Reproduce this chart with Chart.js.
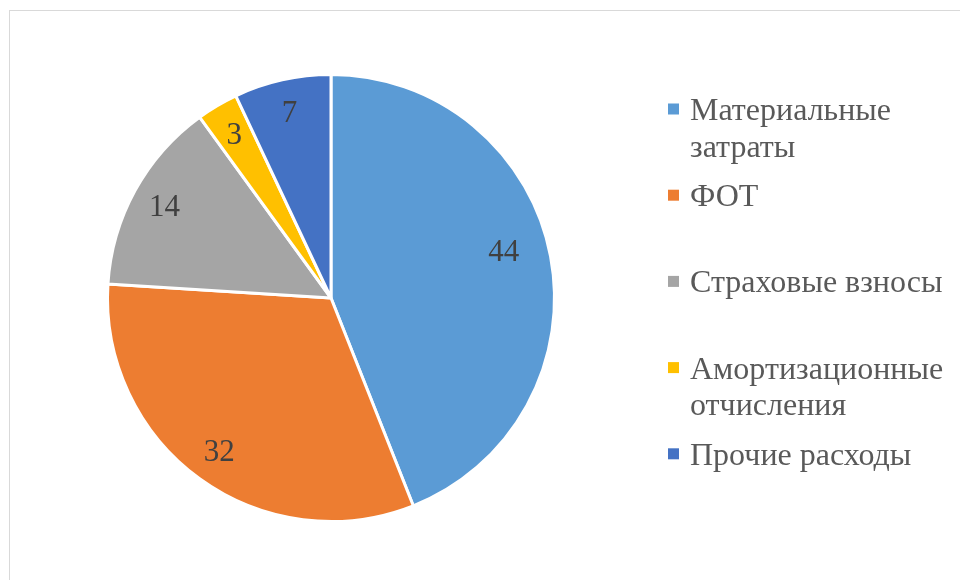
<!DOCTYPE html>
<html>
<head>
<meta charset="utf-8">
<script src="https://cdn.jsdelivr.net/npm/chart.js@4/dist/chart.umd.min.js"></script>
<style>
  html, body { margin: 0; padding: 0; background: #ffffff; overflow: hidden; }
  #wrap { position: relative; width: 960px; height: 580px; }
  #frame { position: absolute; left: 9px; top: 10px; width: 1000px; height: 1000px;
           border: 1.5px solid #d9d9d9; box-sizing: border-box; }
  canvas { position: absolute; left: 0; top: 0; }
</style>
</head>
<body>
<div id="wrap">
  <div id="frame"></div>
  <canvas id="c" width="960" height="580"></canvas>
</div>
<script>
const categories = ["Материальные затраты", "ФОТ", "Страховые взносы", "Амортизационные отчисления", "Прочие расходы"];
const values = [44, 32, 14, 3, 7];
const colors = ["#5B9BD5", "#ED7D31", "#A5A5A5", "#FFC000", "#4472C4"];

const LABEL_FONT = '31px "Liberation Serif", "Times New Roman", serif';
const LEGEND_FONT = '32px "Liberation Serif", "Times New Roman", serif';

const dataLabelPlugin = {
  id: 'sliceLabels',
  afterDatasetsDraw(chart) {
    const ctx = chart.ctx;
    const meta = chart.getDatasetMeta(0);
    const ds = chart.data.datasets[0];
    ctx.save();
    ctx.font = LABEL_FONT;
    ctx.fillStyle = '#404040';
    ctx.textAlign = 'center';
    ctx.textBaseline = 'middle';
    meta.data.forEach((arc, i) => {
      const p = arc.getProps(['x', 'y', 'startAngle', 'endAngle', 'outerRadius'], true);
      const span = p.endAngle - p.startAngle;
      // large slices: Excel pulls the label a bit toward the centre/earlier angle
      const mid = (p.startAngle + p.endAngle) / 2 - (span > Math.PI * 0.8 ? 0.07 : 0);
      const r = p.outerRadius * (span > Math.PI * 0.8 ? 0.8 : 0.85);
      ctx.fillText(String(ds.data[i]), p.x + Math.cos(mid) * r, p.y + Math.sin(mid) * r + 1);
    });
    ctx.restore();
  }
};

const legendPlugin = {
  id: 'sideLegend',
  afterDraw(chart) {
    const ctx = chart.ctx;
    const labels = chart.data.labels;
    const bg = chart.data.datasets[0].backgroundColor;
    ctx.save();
    ctx.font = LEGEND_FONT;
    ctx.textAlign = 'left';
    ctx.textBaseline = 'alphabetic';
    const markX = 668, textX = 690, maxW = 262, lineH = 36.5;
    const firstY = 109, step = 86.2;
    labels.forEach((lab, i) => {
      const cy = firstY + i * step;
      ctx.fillStyle = bg[i];
      ctx.fillRect(markX, cy - 5.5, 11, 11);
      const words = lab.split(' ');
      const lines = [];
      let cur = '';
      words.forEach(w => {
        const t = cur ? cur + ' ' + w : w;
        if (ctx.measureText(t).width > maxW && cur) { lines.push(cur); cur = w; }
        else cur = t;
      });
      if (cur) lines.push(cur);
      ctx.fillStyle = '#595959';
      lines.forEach((ln, k) => ctx.fillText(ln, textX, cy + 11 + k * lineH));
    });
    ctx.restore();
  }
};

new Chart(document.getElementById('c'), {
  type: 'pie',
  data: {
    labels: categories,
    datasets: [{
      data: values,
      backgroundColor: colors,
      borderColor: '#ffffff',
      borderWidth: 3,
      hoverOffset: 0
    }]
  },
  options: {
    responsive: false,
    animation: false,
    layout: { padding: { left: 106, right: 404, top: 73, bottom: 57 } },
    plugins: {
      legend: { display: false },
      tooltip: { enabled: false }
    }
  },
  plugins: [dataLabelPlugin, legendPlugin]
});
</script>
</body>
</html>
